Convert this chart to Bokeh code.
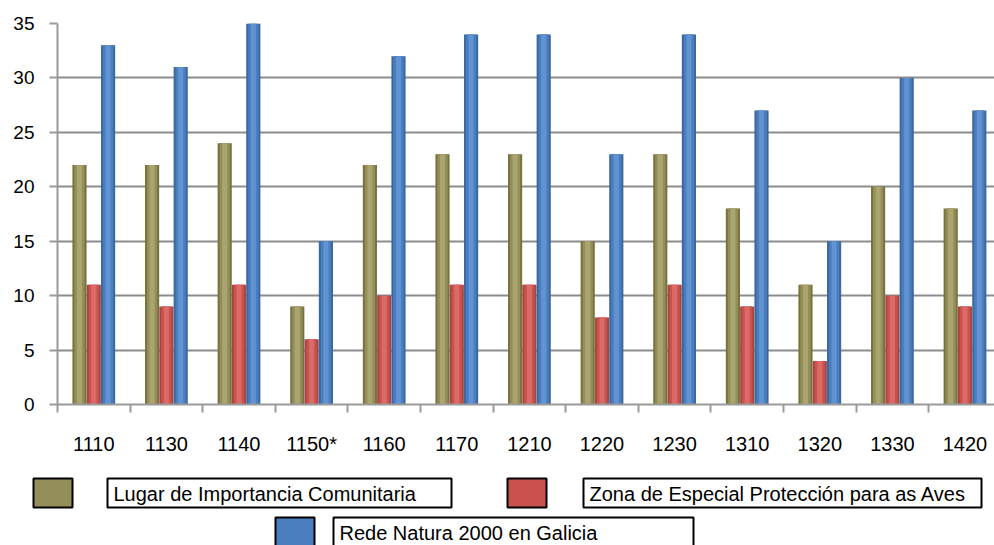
from bokeh.plotting import figure
from bokeh.models import Range1d, FixedTicker, ColumnDataSource
from bokeh.layouts import column
from bokeh.embed import file_html
from bokeh.resources import INLINE
from bokeh.core.properties import value

# ---- data ----
categories = ["1110", "1130", "1140", "1150*", "1160", "1170", "1210",
              "1220", "1230", "1310", "1320", "1330", "1420"]
lic = [22, 22, 24, 9, 22, 23, 23, 15, 23, 18, 11, 20, 18]
zepa = [11, 9, 11, 6, 10, 11, 11, 8, 11, 9, 4, 10, 9]
rede = [33, 31, 35, 15, 32, 34, 34, 23, 34, 27, 15, 30, 27]
series_names = ["Lugar de Importancia Comunitaria",
                "Zona de Especial Protección para as Aves",
                "Rede Natura 2000 en Galicia"]
y_ticks = [0, 5, 10, 15, 20, 25, 30, 35]

# ---- styles ----
FONT = "Liberation Sans"
GREY = "#9a9a9a"
# (edge, mid, light) shades for a cylinder look
shades = [
    ("#77733f", "#948e58", "#aaa471"),
    ("#a84644", "#c9524f", "#dc6a66"),
    ("#3c68a0", "#4a7ebe", "#6193d2"),
]
offsets = [-0.197, 0.0, 0.197]
bar_w = 0.195

W, H_MAIN, H_LEG = 994, 470, 75
LEFT = 57

n = len(categories)
centers = [i + 0.5 for i in range(n)]

p = figure(width=W, height=H_MAIN, x_range=Range1d(0, (W - LEFT) / 72.6), y_range=Range1d(0, 35),
           output_backend="svg", toolbar_location=None,
           min_border_left=LEFT, min_border_right=0, min_border_top=23, min_border_bottom=66)
p.outline_line_color = None
p.background_fill_color = "white"
p.border_fill_color = "white"

for vals, off, (c_edge, c_mid, c_light) in zip([lic, zepa, rede], offsets, shades):
    src = ColumnDataSource(dict(x=[c + off for c in centers], top=vals))
    p.vbar(x="x", top="top", bottom=0, width=bar_w, source=src,
           fill_color=c_edge, line_color=None)
    p.vbar(x="x", top="top", bottom=0, width=bar_w * 0.72, source=src,
           fill_color=c_mid, line_color=None)
    p.vbar(x="x", top="top", bottom=0, width=bar_w * 0.36, source=src,
           fill_color=c_light, line_color=None)

# grid
p.xgrid.visible = False
p.ygrid.ticker = FixedTicker(ticks=y_ticks)
p.ygrid.grid_line_color = "#8c8c8c"
p.ygrid.grid_line_width = 1.8
p.ygrid.level = "underlay"

# y axis
p.yaxis.ticker = FixedTicker(ticks=y_ticks)
p.yaxis.axis_line_color = GREY
p.yaxis.axis_line_width = 2
p.yaxis.major_tick_line_color = GREY
p.yaxis.major_tick_line_width = 2
p.yaxis.major_tick_out = 8
p.yaxis.major_tick_in = 0
p.yaxis.minor_tick_line_color = None
p.yaxis.major_label_standoff = 15
p.yaxis.major_label_text_font = FONT
p.yaxis.major_label_text_font_size = "19px"
p.yaxis.major_label_text_color = "black"

# x axis
p.xaxis.ticker = FixedTicker(ticks=centers, minor_ticks=list(range(n)))
p.xaxis.major_label_overrides = {c: lab for c, lab in zip(centers, categories)}
p.xaxis.axis_line_color = GREY
p.xaxis.axis_line_width = 2
p.xaxis.major_tick_line_color = None
p.xaxis.major_tick_out = 0
p.xaxis.major_tick_in = 0
p.xaxis.minor_tick_line_color = GREY
p.xaxis.minor_tick_line_width = 2
p.xaxis.minor_tick_out = 8
p.xaxis.minor_tick_in = 0
p.xaxis.major_label_standoff = 20
p.xaxis.major_label_text_font = FONT
p.xaxis.major_label_text_font_size = "20px"
p.xaxis.major_label_text_color = "black"

# ---- legend (separate strip, page-pixel coordinates) ----
lg = figure(width=W, height=H_LEG, x_range=Range1d(LEFT, W), y_range=Range1d(H_LEG, 0),
            output_backend="svg", toolbar_location=None,
            min_border_left=LEFT, min_border_right=0, min_border_top=0, min_border_bottom=0,
            x_axis_type=None, y_axis_type=None)
lg.outline_line_color = None
lg.grid.visible = False

sw_left = [33, 507, 275]
sw_top = [8, 8, 47]
tb_left = [107, 583, 333]
tb_width = [344, 398, 360]
sw_w, box_h = 39, 29

lg.quad(left=sw_left, right=[l + sw_w for l in sw_left],
         top=sw_top, bottom=[t + box_h for t in sw_top],
         fill_color=[s[1] for s in shades], line_color="black", line_width=2,
         level="overlay")
lg.quad(left=tb_left, right=[l + w for l, w in zip(tb_left, tb_width)],
         top=sw_top, bottom=[t + box_h for t in sw_top],
         fill_color="white", line_color="black", line_width=2, level="overlay")
lg.text(x=[l + 6 for l in tb_left], y=[t + box_h / 2 + 1 for t in sw_top], text=series_names,
        text_font=value(FONT), text_font_size="20px", text_color="black",
        text_baseline="middle", text_align="left", level="overlay")

layout = column(p, lg, spacing=0)
open("out.html", "w").write(file_html(layout, INLINE))
